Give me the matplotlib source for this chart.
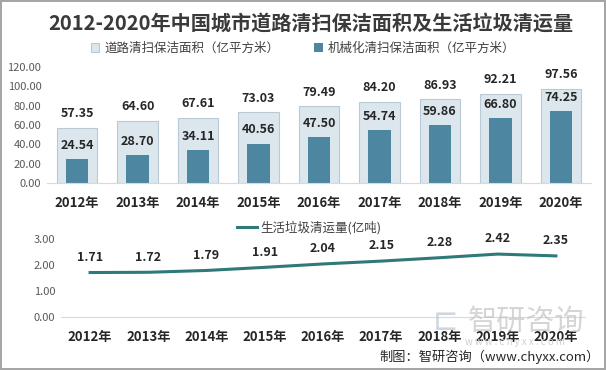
import numpy as np
import matplotlib.pyplot as plt

plt.rcParams['font.family'] = ['Noto Sans CJK SC', 'DejaVu Sans']

years = ['2012年', '2013年', '2014年', '2015年', '2016年', '2017年', '2018年', '2019年', '2020年']
road_area = [57.35, 64.60, 67.61, 73.03, 79.49, 84.20, 86.93, 92.21, 97.56]
mech_area = [24.54, 28.70, 34.11, 40.56, 47.50, 54.74, 59.86, 66.80, 74.25]
garbage = [1.71, 1.72, 1.79, 1.91, 2.04, 2.15, 2.28, 2.42, 2.35]

light = '#dce6ed'
light_edge = '#b9c9d5'
dark = '#4d86a1'
line_c = '#2f7a79'
tick_c = '#595959'
lab_c = '#262626'

fig = plt.figure(figsize=(6.06, 3.70), dpi=100)
fig.patch.set_facecolor('white')
fig.patch.set_edgecolor('#a6a6a6')
fig.patch.set_linewidth(1.5)

x = np.arange(len(years))

# upper panel: bars
ax1 = fig.add_axes([47 / 606, 1 - 183 / 370, 544 / 606, 116 / 370])
b1 = ax1.bar(x, road_area, width=0.67, color=light, edgecolor=light_edge, linewidth=0.8,
             label='道路清扫保洁面积（亿平方米）')
b2 = ax1.bar(x, mech_area, width=0.37, color=dark, label='机械化清扫保洁面积（亿平方米）')
for xi, v in zip(x, road_area):
    ax1.annotate(f'{v:.2f}', (xi, v), xytext=(0, 10), textcoords='offset points',
                 ha='center', va='center', fontsize=9, fontweight='bold', color=lab_c)
for xi, v in zip(x, mech_area):
    ax1.annotate(f'{v:.2f}', (xi, v), xytext=(0, 10), textcoords='offset points',
                 ha='center', va='center', fontsize=9, fontweight='bold', color=lab_c)
ax1.set_xlim(-0.5, len(years) - 0.5)
ax1.set_ylim(0, 120)
ax1.set_yticks(np.arange(0, 121, 20))
ax1.set_yticklabels([f'{t:.2f}' for t in np.arange(0, 121, 20)])
ax1.set_xticks(x)
ax1.set_xticklabels(years, fontsize=9.5, fontweight='bold', color=lab_c)

# lower panel: line
ax2 = fig.add_axes([61 / 606, 1 - 317 / 370, 524 / 606, 78 / 370])
ax2.plot(x, garbage, color=line_c, linewidth=2.2, label='生活垃圾清运量(亿吨)')
for xi, v in zip(x, garbage):
    ax2.annotate(f'{v:.2f}', (xi, v), xytext=(0, 11), textcoords='offset points',
                 ha='center', va='center', fontsize=9, fontweight='bold', color=lab_c)
ax2.set_xlim(-0.5, len(years) - 0.5)
ax2.set_ylim(0, 3)
ax2.set_yticks([0, 1, 2, 3])
ax2.set_yticklabels([f'{t:.2f}' for t in [0, 1, 2, 3]])
ax2.set_xticks(x)
ax2.set_xticklabels(years, fontsize=9.5, fontweight='bold', color=lab_c)

for ax in (ax1, ax2):
    for s in ['top', 'right', 'left']:
        ax.spines[s].set_visible(False)
    ax.spines['bottom'].set_color('#d9d9d9')
    ax.tick_params(length=0)
    ax.tick_params(axis='y', labelsize=8, labelcolor=tick_c, pad=4)
    ax.tick_params(axis='x', pad=9)
    ax.set_facecolor('none')

fig.text(0.513, 1 - 24 / 370, '2012-2020年中国城市道路清扫保洁面积及生活垃圾清运量',
         ha='center', va='center', fontsize=14.5, fontweight='bold', color='#3a3a3a')

fig.legend(handles=[b1, b2], loc='center', bbox_to_anchor=(0.5, 1 - 48 / 370), ncol=2,
           frameon=False, fontsize=9, handlelength=0.7, handleheight=0.7,
           columnspacing=2.8, handletextpad=0.4, labelcolor='#404040')
ax2.legend(loc='center', bbox_to_anchor=(0.51, 1 - 228 / 370), bbox_transform=fig.transFigure,
           frameon=False, fontsize=9, handlelength=1.6, handletextpad=0.3, labelcolor='#404040')

# watermark and source
fig.text(468 / 606, 1 - 322 / 370, '智研咨询', ha='left', va='center', fontsize=21,
         color='#c4c4c4', alpha=0.7, zorder=0)
fig.text(433 / 606, 1 - 321 / 370, '⊏', ha='left', va='center', fontsize=22,
         color='#b8c6d6', alpha=0.7, family=['DejaVu Sans'], zorder=0)
fig.text(515 / 606, 1 - 342 / 370, 'w w w . c h y x x . c o m', ha='center', va='center',
         fontsize=7, color='#d0d0d0', zorder=0)
fig.text(0.99, 1 - 357 / 370, '制图：智研咨询（www.chyxx.com）', ha='right', va='center',
         fontsize=9.5, color='#262626')

fig.savefig('out.png', dpi=100)
